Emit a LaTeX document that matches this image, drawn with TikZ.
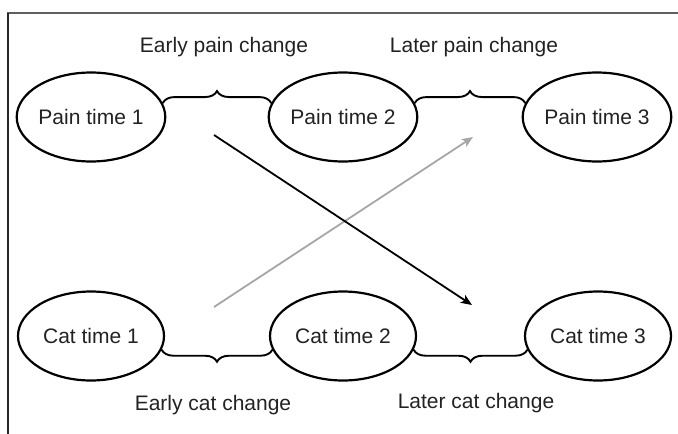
\documentclass[tikz,border=0pt]{standalone}
\usepackage{fontspec}
\setmainfont{Liberation Sans}
\usetikzlibrary{shapes.geometric,decorations.pathreplacing,arrows.meta,calc}
\definecolor{inkgray}{HTML}{222222}
\definecolor{framegray}{HTML}{606060}
\definecolor{lightarrow}{HTML}{A6A6A6}
\tikzset{
  stage/.style={ellipse, draw=black, line width=2.2pt, minimum width=146pt,
    minimum height=89pt, inner sep=0pt, text=inkgray, font=\fontsize{21pt}{24pt}\selectfont},
  caption/.style={text=inkgray, inner sep=0pt, font=\fontsize{21pt}{24pt}\selectfont},
  changebrace/.style={draw=black, line width=1.9pt,
    decorate, decoration={brace, amplitude=12pt, aspect=0.5}},
  effect/.style={line width=1.8pt, -{Stealth[length=11pt, width=9pt, inset=2.5pt]}},
}
\begin{document}
\begin{tikzpicture}[x=1pt, y=-1pt]
  \useasboundingbox (0,0) rectangle (678,434);
  % frame
  \draw[framegray, line width=2pt] (7,13) -- (678,13);
  \draw[black!85, line width=1.6pt] (8,13) -- (8,434);

  % measurement occasions
  \node[stage] (p1) at (91,117) {Pain time 1};
  \node[stage] (p2) at (343,117) {Pain time 2};
  \node[stage] (p3) at (597,117) {Pain time 3};
  \node[stage] (c1) at (91,336) {Cat time 1};
  \node[stage] (c2) at (343,336) {Cat time 2};
  \node[stage] (c3) at (598,336) {Cat time 3};

  % change braces
  \draw[changebrace] (p1.11) -- (p2.169);
  \draw[changebrace] (p2.11) -- (p3.169);
  \draw[changebrace] (c2.191) -- (c1.349);
  \draw[changebrace] (c3.191) -- (c2.349);

  % change labels
  \node[caption] (ep) at (224,47) {Early pain change};
  \node[caption] (lp) at (474,47) {Later pain change};
  \node[caption] (ec) at (213,405) {Early cat change};
  \node[caption] (lc) at (476,403) {Later cat change};

  % cross-lagged effects
  \coordinate (eps) at (214,135);
  \coordinate (lct) at (472,305);
  \coordinate (ecs) at (214,307);
  \coordinate (lpt) at (473,137);
  \draw[effect, lightarrow] (ecs) -- (lpt);
  \draw[effect, black] (eps) -- (lct);
\end{tikzpicture}
\end{document}
